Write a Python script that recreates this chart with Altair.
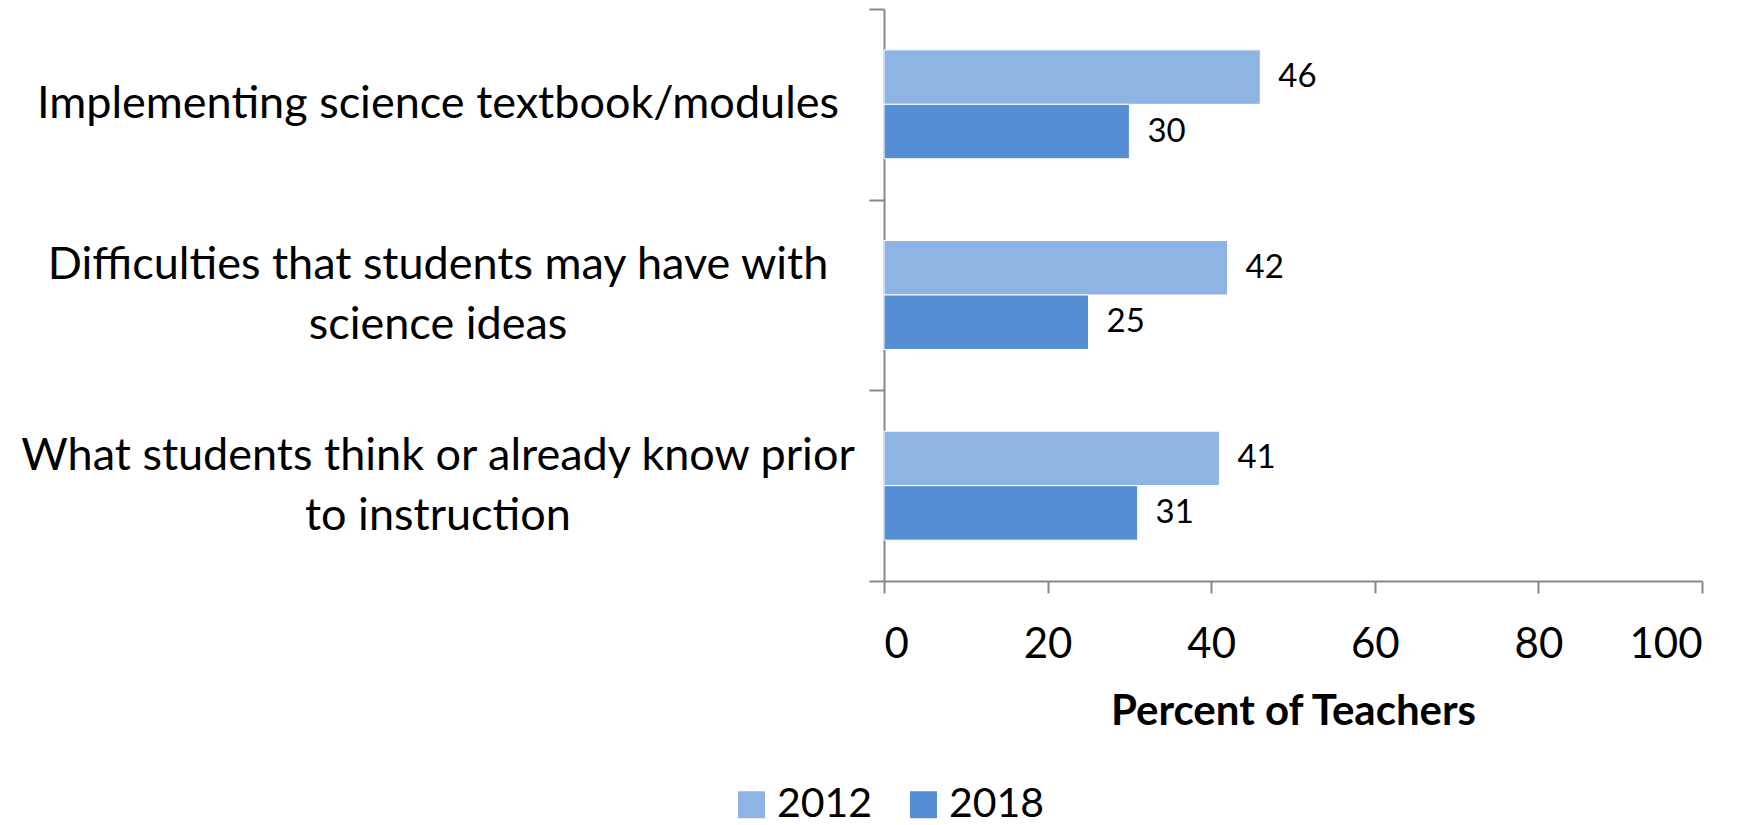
import altair as alt
import pandas as pd

categories = [
    "Implementing science textbook/modules",
    "Difficulties that students may have with|science ideas",
    "What students think or already know prior|to instruction",
]
years = ["2012", "2018"]
values_2012 = [46, 42, 41]
values_2018 = [30, 25, 31]
colors = ["#8EB4E3", "#558ED5"]

rows = []
for c, v12, v18 in zip(categories, values_2012, values_2018):
    rows.append({"category": c, "year": "2012", "value": v12})
    rows.append({"category": c, "year": "2018", "value": v18})
df = pd.DataFrame(rows)
cat_df = pd.DataFrame({"category": categories})

FONT = "Lato"
AXIS_GRAY = "#878787"

y_axis = alt.Axis(
    title=None,
    labels=False,
    tickBand="extent",
    tickSize=15,
)
y_scale = alt.Scale(paddingInner=0, paddingOuter=0)

base = alt.Chart(df).encode(
    y=alt.Y("category:N", sort=categories, scale=y_scale, axis=y_axis),
    yOffset=alt.YOffset(
        "year:N", sort=years, scale=alt.Scale(paddingInner=0, paddingOuter=0.75)
    ),
)

bars = base.mark_bar(stroke="white", strokeWidth=1).encode(
    x=alt.X(
        "value:Q",
        scale=alt.Scale(domain=[0, 100], nice=False),
        axis=alt.Axis(
            values=[0, 20, 40, 60, 80, 100],
            title="Percent of Teachers",
            titleFontWeight="bold",
            titleFontSize=42,
            titleBaseline="alphabetic",
            titleY=143,
            tickSize=12,
            labelPadding=64,
            labelBaseline="alphabetic",
            labelFontSize=42,
            grid=False,
        ),
    ),
    color=alt.Color(
        "year:N",
        sort=years,
        scale=alt.Scale(domain=years, range=colors),
        legend=alt.Legend(
            title=None,
            orient="none",
            direction="horizontal",
            legendX=-153,
            legendY=775,
            symbolType="square",
            symbolSize=729,
            symbolStrokeWidth=0,
            labelFontSize=41,
            labelOffset=5,
            columnPadding=30,
            padding=0,
            labelFont=FONT,
            labelColor="black",
        ),
    ),
)

value_labels = base.mark_text(
    align="left", baseline="middle", dx=18, fontSize=33, font=FONT, color="black"
).encode(x="value:Q", text="value:Q")

# Category labels (left of the axis), centred lines, block centred on the band
cat_base = alt.Chart(cat_df).encode(
    y=alt.Y("category:N", sort=categories, scale=y_scale, axis=y_axis),
    x=alt.value(-446),
    text="category:N",
)
cat_single = cat_base.transform_filter(
    "indexof(datum.category, '|') < 0"
).mark_text(
    align="center", baseline="middle", fontSize=45, font=FONT, color="black"
)
cat_double = cat_base.transform_filter(
    "indexof(datum.category, '|') >= 0"
).mark_text(
    align="center",
    baseline="middle",
    fontSize=45,
    font=FONT,
    color="black",
    lineBreak="|",
    lineHeight=60,
    dy=-30,
)

chart = (
    alt.layer(bars, value_labels, cat_single, cat_double)
    .properties(
        width=818,
        height=572,
        padding={"left": 876, "top": 1, "right": 20, "bottom": 244},
        autosize=alt.AutoSizeParams(type="none"),
    )
    .configure_view(stroke=None)
    .configure_axis(
        domainColor=AXIS_GRAY,
        domainWidth=2,
        tickColor=AXIS_GRAY,
        tickWidth=2,
        labelFont=FONT,
        titleFont=FONT,
        labelColor="black",
        titleColor="black",
        grid=False,
    )
)

chart.save("out.html", embed_options={"renderer": "svg", "actions": False})
